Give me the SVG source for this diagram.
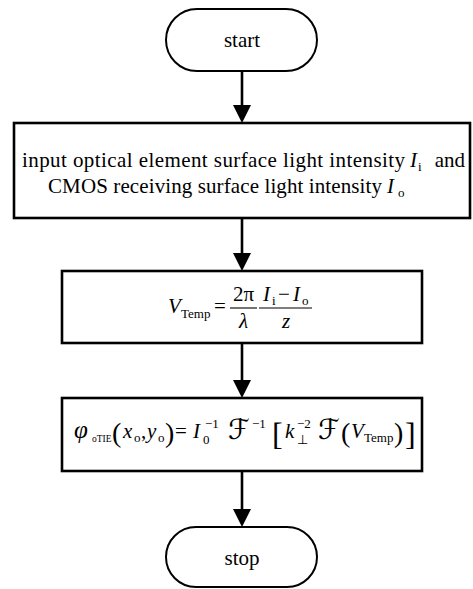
<svg xmlns="http://www.w3.org/2000/svg" width="473" height="589" viewBox="0 0 473 589">
<defs>
<style>
.t{font-family:"Liberation Serif","Times New Roman",serif;font-size:21px;fill:#000}
.i{font-style:italic}
.s{font-size:13px}
.ss{font-size:9.5px}
.phi{font-size:25px}
.par{font-size:28px}
.brk{font-size:32px}
.scr{font-family:"DejaVu Sans","DejaVu Serif","Liberation Serif",serif;font-size:28px}
.term{fill:#fff;stroke:#000;stroke-width:2}
.box{fill:#fff;stroke:#000;stroke-width:2.6}
.conn{stroke:#000;stroke-width:2.6;fill:none}
.bar{stroke:#000;stroke-width:1.1}
</style>
<marker id="ah" viewBox="0 0 18 18" refX="0" refY="9" markerWidth="18" markerHeight="18" markerUnits="userSpaceOnUse" orient="auto">
<path d="M0,0 L18,9 L0,18 z" fill="#000"/>
</marker>
</defs>
<rect width="473" height="589" fill="#fff"/>
<g id="connectors">
<line class="conn" x1="242" y1="71" x2="242" y2="105" marker-end="url(#ah)"/>
<line class="conn" x1="242" y1="218" x2="242" y2="253" marker-end="url(#ah)"/>
<line class="conn" x1="242" y1="343" x2="242" y2="380" marker-end="url(#ah)"/>
<line class="conn" x1="242" y1="471" x2="242" y2="509" marker-end="url(#ah)"/>
</g>
<g id="start">
<rect class="term" x="166" y="9" width="151" height="62" rx="31"/>
<text class="t" x="242" y="47" text-anchor="middle">start</text>
</g>
<g id="input">
<rect class="box" x="14" y="123" width="456" height="95"/>
<text class="t" x="22" y="167" textLength="383" lengthAdjust="spacing">input optical element surface light intensity</text>
<text class="t i" x="410" y="167">I</text>
<text class="t s" x="418" y="171">i</text>
<text class="t" x="465" y="167" text-anchor="end">and</text>
<text class="t" x="48" y="193" textLength="334" lengthAdjust="spacing">CMOS receiving surface light intensity</text>
<text class="t i" x="387" y="193">I</text>
<text class="t s" x="398" y="197">o</text>
</g>
<g id="vtemp">
<rect class="box" x="62" y="271" width="360" height="72"/>
<text class="t i" x="168" y="313">V</text>
<text class="t s" x="181" y="318">Temp</text>
<text class="t" x="214" y="313">=</text>
<text class="t" x="243.5" y="301" text-anchor="middle">2π</text>
<line class="bar" x1="230" y1="308" x2="257" y2="308"/>
<text class="t i" x="243.5" y="328" text-anchor="middle">λ</text>
<line class="bar" x1="259" y1="308" x2="312" y2="308"/>
<text class="t i" x="263" y="301">I</text>
<text class="t s" x="272" y="305">i</text>
<text class="t" x="278" y="301">−</text>
<text class="t i" x="293" y="301">I</text>
<text class="t s" x="302" y="305">o</text>
<text class="t i" x="286" y="328" text-anchor="middle">z</text>
</g>
<g id="phase">
<rect class="box" x="62" y="398" width="360" height="73"/>
<text class="t i phi" x="74" y="438">φ</text>
<text class="t ss" x="92" y="442">oTIE</text>
<text class="t par" x="112" y="442">(</text>
<text class="t i" x="123" y="438">x</text>
<text class="t s" x="134" y="442">o</text>
<text class="t" x="141" y="438">,</text>
<text class="t i" x="147" y="438">y</text>
<text class="t s" x="158" y="442">o</text>
<text class="t par" x="165" y="442">)</text>
<text class="t" x="175" y="438">=</text>
<text class="t i" x="193" y="438">I</text>
<text class="t s" x="205" y="428">−1</text>
<text class="t s" x="203" y="444">0</text>
<text class="scr" x="228" y="439">ℱ</text>
<text class="t s" x="252" y="428">−1</text>
<text class="t brk" x="272" y="445">[</text>
<text class="t i" x="285" y="438">k</text>
<text class="t s" x="297" y="428">−2</text>
<text class="t s" x="297" y="444">⊥</text>
<text class="scr" x="318" y="439">ℱ</text>
<text class="t par" x="341" y="442">(</text>
<text class="t i" x="351" y="438">V</text>
<text class="t s" x="364" y="442">Temp</text>
<text class="t par" x="394" y="442">)</text>
<text class="t brk" x="405" y="445">]</text>
</g>
<g id="stop">
<rect class="term" x="166" y="527" width="151" height="60" rx="30"/>
<text class="t" x="242" y="565" text-anchor="middle">stop</text>
</g>
</svg>
